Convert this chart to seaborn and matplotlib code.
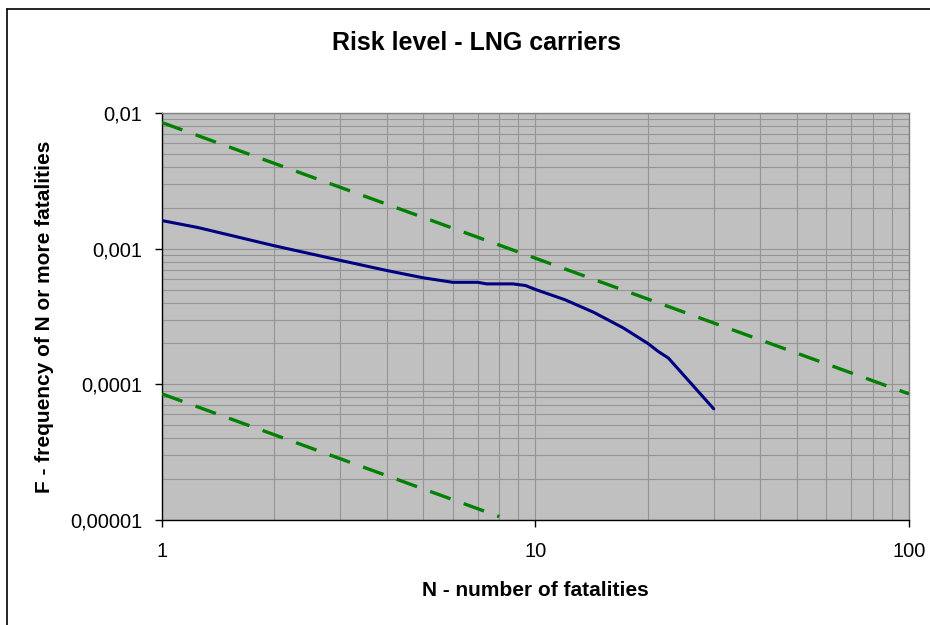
import matplotlib
matplotlib.use('Agg')
import matplotlib.pyplot as plt
import matplotlib.ticker as mticker
import seaborn as sns

# ─── Data ─────────────────────────────────────────────────────
# F-N curve for LNG carriers (N = number of fatalities, F = frequency)
n_fatal = [1, 1.25, 2, 3, 4, 5, 6, 7, 7.4, 8.7, 9.4, 10, 12, 14.3, 17.2, 20, 21.3, 22.7, 30]
freq = [1.61e-3, 1.43e-3, 1.05e-3, 8.2e-4, 6.9e-4, 6.1e-4, 5.65e-4, 5.65e-4, 5.5e-4,
        5.5e-4, 5.35e-4, 5.0e-4, 4.2e-4, 3.4e-4, 2.6e-4, 2.0e-4, 1.75e-4, 1.56e-4, 6.6e-5]

# ALARP criteria lines (slope -1)
upper_n = [1, 100]
upper_f = [8.5e-3, 8.5e-5]
lower_n = [1, 8]
lower_f = [8.5e-5, 1.06e-5]

x_ticks = [1, 10, 100]
x_labels = ['1', '10', '100']
y_ticks = [1e-5, 1e-4, 1e-3, 1e-2]
y_labels = ['0,00001', '0,0001', '0,001', '0,01']

title = 'Risk level - LNG carriers'
x_title = 'N - number of fatalities'
y_title = 'F - frequency of N or more fatalities'

# ─── Style ────────────────────────────────────────────────────
sns.set_style('white')
plt.rcParams['font.family'] = ['Liberation Sans', 'DejaVu Sans']
plt.rcParams['text.color'] = 'black'
plt.rcParams['xtick.color'] = 'black'
plt.rcParams['ytick.color'] = 'black'
plt.rcParams['xtick.labelcolor'] = 'black'
plt.rcParams['ytick.labelcolor'] = 'black'

fig = plt.figure(figsize=(9.3, 6.25), dpi=100)
ax = fig.add_axes([0.1742, 0.168, 0.8032, 0.6512])
ax.set_facecolor('#c0c0c0')

# chart area border (only top/left visible in the reference)
fig.add_artist(plt.Line2D([0.0075, 0.0075], [0.0, 0.986], color='black', lw=1.2))
fig.add_artist(plt.Line2D([0.0075, 1.0], [0.986, 0.986], color='black', lw=1.2))

dash = (0, (6.5, 4.2))
sns.lineplot(x=upper_n, y=upper_f, ax=ax, color='#008000', linewidth=2.4,
             linestyle=dash, estimator=None, zorder=3)
sns.lineplot(x=lower_n, y=lower_f, ax=ax, color='#008000', linewidth=2.4,
             linestyle=dash, estimator=None, zorder=3)
sns.lineplot(x=n_fatal, y=freq, ax=ax, color='#000080', linewidth=2.2,
             estimator=None, sort=False, zorder=4)

ax.set_xscale('log')
ax.set_yscale('log')
ax.set_xlim(1, 100)
ax.set_ylim(1e-5, 1e-2)

ax.xaxis.set_major_locator(mticker.FixedLocator(x_ticks))
ax.xaxis.set_major_formatter(mticker.FixedFormatter(x_labels))
ax.yaxis.set_major_locator(mticker.FixedLocator(y_ticks))
ax.yaxis.set_major_formatter(mticker.FixedFormatter(y_labels))
ax.xaxis.set_minor_locator(mticker.LogLocator(base=10, subs=range(2, 10)))
ax.yaxis.set_minor_locator(mticker.LogLocator(base=10, subs=range(2, 10)))
ax.xaxis.set_minor_formatter(mticker.NullFormatter())
ax.yaxis.set_minor_formatter(mticker.NullFormatter())

ax.grid(True, which='both', color='#959595', linewidth=0.8)
ax.set_axisbelow(True)
ax.tick_params(which='major', direction='out', length=5, width=1, color='black',
               labelcolor='black', labelsize=14.5, pad=9, left=True, bottom=True)
ax.tick_params(which='minor', length=0)
ax.tick_params(axis='x', pad=11)

for side in ['top', 'right']:
    ax.spines[side].set_color('#808080')
    ax.spines[side].set_linewidth(1)
for side in ['left', 'bottom']:
    ax.spines[side].set_color('black')
    ax.spines[side].set_linewidth(1)

ax.set_xlabel('')
ax.set_ylabel('')
fig.text(0.512, 0.931, title, ha='center', va='center', fontsize=18,
         fontweight='bold', color='black')
fig.text(0.576, 0.056, x_title, ha='center', va='center', fontsize=15,
         fontweight='bold', color='black')
fig.text(0.048, 0.4936, y_title, ha='center', va='center', rotation=90,
         fontsize=15, fontweight='bold', color='black')

fig.savefig('out.png', dpi=100)
